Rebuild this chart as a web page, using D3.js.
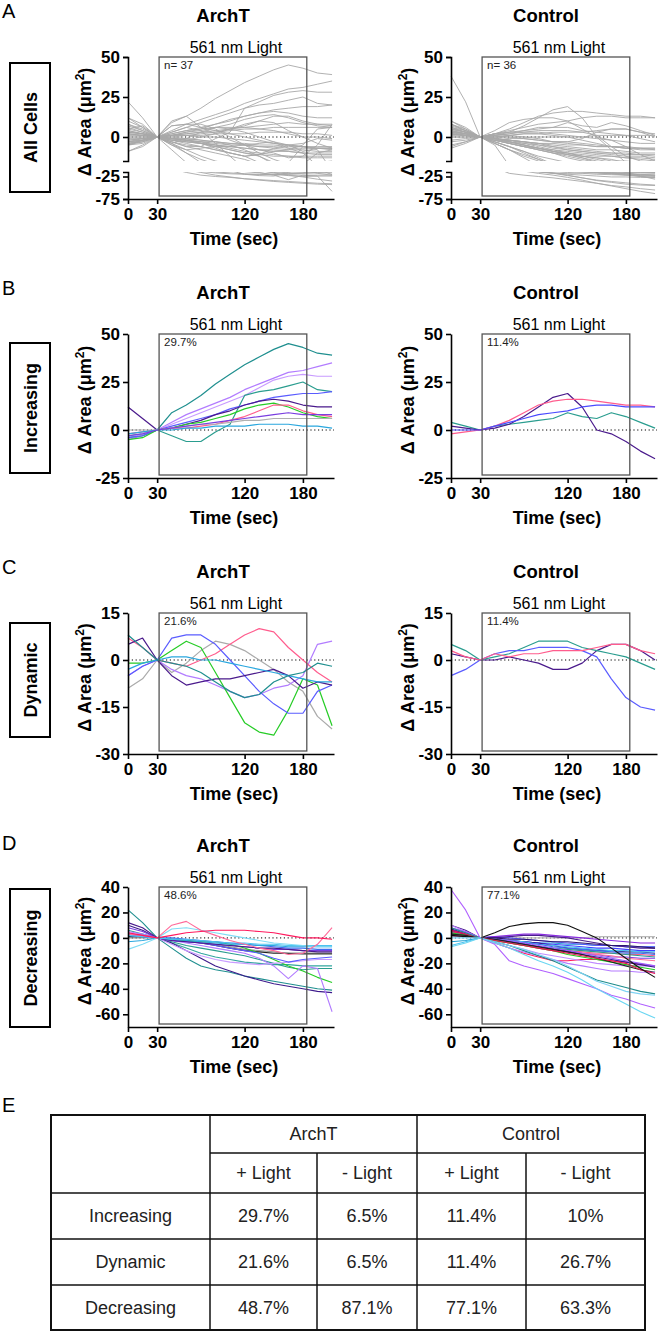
<!DOCTYPE html>
<html>
<head>
<meta charset="utf-8">
<script src="https://cdn.jsdelivr.net/npm/d3@7"></script>
<style>
body { margin: 0; background: #fff; }
text { font-family: "Liberation Sans", Arial, sans-serif; }
</style>
</head>
<body>
<script>
// sample times (sec) for every trace
const timeSec = [0, 15, 30, 45, 60, 75, 90, 105, 120, 135, 150, 165, 180, 195, 210];

// ---- Increasing ----
const increasingArchT = [
    [-3, -2, 0, 9, 13, 18, 24, 29, 34, 38, 42, 45, 43, 40, 39],
    [-5, -3, 0, 4, 8, 11, 14, 17, 21, 24, 27, 30, 31, 33, 35],
    [-4, -2, 0, 3, 6, 9, 12, 15, 18, 22, 26, 28, 29, 28, 28],
    [-4, -3, 0, -3, -6, -6, -1, 3, 18, 20, 21, 23, 25, 21, 20],
    [-4, -3, 0, 2, 4, 6, 8, 11, 13, 15, 17, 18, 19, 19, 20],
    [12, 6, 0, 1, 3, 5, 8, 10, 13, 15, 16, 15, 13, 12, 12],
    [-5, -4, 0, 1, 3, 4, 6, 8, 11, 13, 14, 12, 9, 7, 6],
    [-2, -1, 0, 1, 1, 2, 3, 5, 7, 10, 13, 13, 10, 8, 7],
    [0, 0, 0, 1, 2, 3, 3, 4, 5, 5, 6, 6, 6, 6, 6],
    [-2, -1, 0, 0, 1, 1, 2, 2, 2, 3, 3, 3, 2, 2, 1],
    [-3, -2, 0, 1, 2, 3, 4, 5, 6, 7, 8, 9, 8, 8, 8]
];
const increasingArchTColors = ["#1f8f8f", "#b27cff", "#c89bff", "#2a9d8f", "#5a5cff", "#4a1a8c",
    "#26cc26", "#ff5c8d", "#b0b0b0", "#2aa7de", "#7a3fe0"];

const increasingControl = [
    [4, 2, 0, 2, 3, 4, 5, 6, 9, 7, 6, 9, 7, 4, 1],
    [2, 1, 0, 1, 3, 7, 12, 17, 19, 12, 0, -2, -6, -11, -15],
    [-2, -1, 0, 2, 5, 9, 13, 15, 16, 16, 15, 14, 13, 13, 12],
    [0, 0, 0, 2, 4, 6, 8, 9, 10, 12, 13, 13, 12, 12, 12]
];
const increasingControlColors = ["#2a9d8f", "#4a1a8c", "#ff5c8d", "#4a4aff"];

// ---- Dynamic ----
const dynamicArchT = [
    [-9, -6, 0, -4, -1, 3, 6, 5, 3, 0, -3, -7, -10, -18, -22],
    [-5, -2, 0, -3, -5, -6, -8, -10, -12, -11, -9, -8, -5, 5, 6],
    [-1, -1, 0, 3, 6, 4, -4, -12, -20, -23, -24, -16, -6, -8, -21],
    [7, 4, 0, -1, -2, 0, 2, 5, 8, 10, 9, 4, 0, -4, -7],
    [-5, -2, 0, 7, 8, 8, 5, 0, -5, -10, -14, -17, -17, -10, -8],
    [5, 7, 0, -5, -8, -7, -6, -6, -5, -4, -3, -5, -9, -7, -8],
    [-3, -1, 0, 1, 1, 0, 0, -1, -2, -3, -4, -5, -6, -7, -7],
    [8, 4, 0, -1, -2, -4, -7, -10, -12, -11, -7, -5, -4, -1, -2]
];
const dynamicArchTColors = ["#aaaaaa", "#b27cff", "#26cc26", "#ff5c8d", "#5a5cff", "#4a1a8c", "#2aa7de", "#1f8f8f"];

const dynamicControl = [
    [2, 1, 0, 0, 1, 0, -1, -3, -3, -1, 3, 5, 5, 3, 0],
    [5, 3, 0, 1, 2, 4, 6, 6, 6, 4, 3, 2, 1, -1, -3],
    [-5, -3, 0, 2, 3, 3, 4, 4, 4, 3, 1, -6, -12, -15, -16],
    [3, 1, 0, 2, 1, 2, 2, 3, 3, 3, 4, 5, 5, 3, 2]
];
const dynamicControlColors = ["#4a1a8c", "#2a9d8f", "#5a5cff", "#ff5c8d"];

// ---- Decreasing ----
const decreasingArchT = [
    [0, 0, 0, -1, -2, -3, -5, -7, -9, -10, -11, -12, -13, -13, -13],
    [1, 1, 0, -1, -2, -4, -6, -8, -10, -11, -12, -12, -12, -12, -12],
    [2, 1, 0, -4, -8, -12, -15, -17, -19, -20, -21, -21, -22, -22, -22],
    [6, 3, 0, -3, -6, -8, -10, -12, -14, -17, -20, -23, -25, -24, -24],
    [22, 12, 0, -8, -16, -22, -25, -27, -30, -32, -34, -36, -38, -40, -41],
    [10, 6, 0, -4, -10, -16, -22, -26, -30, -33, -36, -38, -40, -42, -43],
    [3, 2, 0, -1, -2, -3, -3, -5, -8, -12, -17, -22, -26, -31, -35],
    [5, 3, 0, -2, -4, -6, -8, -10, -12, -16, -22, -32, -22, -24, -58],
    [4, 2, 0, -5, -10, -14, -17, -19, -20, -21, -20, -19, -18, -17, -17],
    [2, 1, 0, -2, -3, -4, -6, -8, -10, -12, -16, -19, -17, -16, -15],
    [8, 5, 0, -2, -3, -4, -5, -6, -7, -8, -9, -9, -10, -10, -10],
    [12, 8, 0, -2, -3, -4, -5, -6, -7, -8, -8, -9, -10, -11, -11],
    [3, 2, 0, 0, -1, -2, -3, -4, -5, -6, -7, -8, -8, -9, -9],
    [-3, -2, 0, -1, -2, -3, -4, -5, -5, -6, -6, -7, -7, -7, -7],
    [2, 1, 0, -1, -1, -2, -3, -4, -4, -5, -5, -6, -6, -6, -6],
    [-9, -5, 0, 7, 8, 6, 4, 2, 0, -2, -4, -5, -6, -7, -7],
    [3, 2, 0, 10, 13, 6, 2, -2, -5, -8, -10, -13, -12, -5, 8],
    [4, 2, 0, 2, 4, 5, 6, 6, 6, 5, 4, 2, 0, 0, -1]
];
const decreasingArchTColors = ["#9a9a9a", "#222222", "#33a6a0", "#2a9d8f", "#1f8f8f", "#3d1a8c",
    "#26cc26", "#b27cff", "#c89bff", "#5a5cff", "#7a3fe0", "#4a1a8c", "#3f6df0", "#2aa7de",
    "#4cc3f0", "#7fdcf5", "#ff6b9a", "#ff1a5e"];

const decreasingControl = [
    [1, 1, 0, 0, 0, 0, 0, 0, 0, 0, 1, 1, 1, 1, 1],
    [-3, -2, 0, -1, -2, -3, -4, -4, -5, -5, -6, -6, -7, -7, -7],
    [4, 2, 0, 1, 0, -1, -2, -3, -4, -5, -6, -6, -7, -7, -7],
    [3, 2, 0, -1, -2, -3, -4, -5, -6, -7, -8, -8, -9, -10, -10],
    [4, 2, 0, 1, 2, 3, 3, 2, 1, 0, -1, -2, -3, -4, -4],
    [10, 6, 0, 0, 1, 2, 2, 1, 0, -2, -4, -6, -7, -8, -8],
    [7, 4, 0, 0, -1, -1, -2, -3, -3, -4, -5, -6, -6, -7, -8],
    [6, 4, 0, -1, -2, -3, -4, -6, -8, -9, -10, -10, -11, -11, -12],
    [-6, -3, 0, -1, -2, -3, -5, -6, -7, -8, -9, -10, -10, -11, -11],
    [2, 1, 0, -1, -3, -4, -5, -7, -8, -9, -10, -11, -12, -12, -13],
    [3, 2, 0, -1, -3, -5, -7, -9, -10, -11, -12, -12, -13, -13, -14],
    [5, 3, 0, -2, -4, -6, -7, -8, -9, -10, -11, -12, -13, -14, -15],
    [5, 3, 0, -2, -3, -5, -7, -9, -10, -12, -13, -15, -15, -16, -16],
    [2, 1, 0, -2, -4, -6, -8, -10, -11, -12, -13, -14, -16, -17, -18],
    [5, 3, 0, -4, -8, -12, -15, -18, -18, -17, -17, -18, -19, -21, -22],
    [10, 5, 0, -3, -6, -9, -12, -14, -16, -18, -20, -21, -22, -22, -22],
    [8, 5, 0, -1, -2, -4, -6, -8, -10, -12, -14, -16, -18, -20, -22],
    [6, 3, 0, -1, -3, -5, -7, -9, -11, -13, -15, -17, -19, -21, -23],
    [4, 2, 0, -2, -4, -6, -8, -10, -13, -15, -17, -19, -21, -23, -25],
    [3, 2, 0, -1, -3, -5, -7, -9, -11, -13, -16, -19, -22, -25, -27],
    [8, 4, 0, -4, -8, -11, -14, -17, -20, -22, -24, -26, -26, -27, -27],
    [6, 3, 0, -2, -4, -6, -8, -10, -12, -14, -16, -18, -20, -25, -28],
    [2, 1, 0, 4, 9, 11, 12, 12, 10, 5, 0, -8, -16, -24, -31],
    [8, 4, 0, -3, -6, -10, -14, -18, -23, -28, -33, -36, -39, -42, -44],
    [0, 0, 0, -3, -6, -9, -13, -17, -22, -28, -34, -38, -42, -44, -45],
    [38, 22, 0, -5, -18, -22, -25, -28, -32, -36, -40, -45, -48, -52, -55],
    [-7, -4, 0, -4, -8, -13, -18, -22, -27, -33, -40, -46, -52, -58, -63]
];
const decreasingControlColors = ["#bbbbbb", "#1e9fd0", "#5b5bff", "#4040ff", "#8a2be2", "#4b1d8f",
    "#2d1470", "#3d1a8c", "#4cc3f0", "#3f6df0", "#ff5c8a", "#2a9d8f", "#7b3fe4", "#ff6b9a",
    "#ff1a5e", "#c08cff", "#9b59ff", "#3a1e96", "#22cc22", "#222222", "#b57bff", "#e8174f",
    "#111111", "#1e8c8c", "#7fd3f5", "#b060ff", "#6ad6f2"];

// ---- headings and notes ----
const groupTitles = ["ArchT", "Control"];
const rowLabels = ["All Cells", "Increasing", "Dynamic", "Decreasing"];
const panelNotes = [["n= 37", "n= 36"], ["29.7%", "11.4%"], ["21.6%", "11.4%"], ["48.6%", "77.1%"]];
const xTicks = [0, 30, 120, 180];
const lightWindow = [32, 184];

// ---- table E ----
const tableGroups = ["ArchT", "Control"];
const tableSub = ["+ Light", "- Light", "+ Light", "- Light"];
const tableRows = ["Increasing", "Dynamic", "Decreasing"];
const tableValues = [
    ["29.7%", "6.5%", "11.4%", "10%"],
    ["21.6%", "6.5%", "11.4%", "26.7%"],
    ["48.7%", "87.1%", "77.1%", "63.3%"]
];

const svg = d3.select("body").append("svg")
    .attr("width", 666)
    .attr("height", 1333);

const colX = [128, 451];
var clipCount = 0;

function drawPanel(x0, segs, traces, colors, note, title, lineWidth) {
    const x = d3.scaleLinear().domain([0, 212]).range([x0, x0 + 206]);
    const yTop = d3.min(segs, s => s.range[1]);
    const yBot = d3.max(segs, s => s.range[0]);
    const g = svg.append("g");

    segs.forEach(s => {
        const y = d3.scaleLinear().domain(s.domain).range(s.range);
        const id = "clip" + (clipCount++);
        const pad = segs.length > 1 ? 0 : 3;
        svg.append("clipPath").attr("id", id)
            .append("rect")
            .attr("x", x0 - 2).attr("y", s.range[1] - pad)
            .attr("width", 212).attr("height", s.range[0] - s.range[1] + pad * 2);
        const cg = g.append("g").attr("clip-path", `url(#${id})`);
        if (s.domain[0] <= 0 && s.domain[1] >= 0) {
            cg.append("line")
                .attr("x1", x(0)).attr("x2", x(212))
                .attr("y1", y(0)).attr("y2", y(0))
                .attr("stroke", "#000").attr("stroke-width", 1)
                .attr("stroke-dasharray", "1.2,2.6");
        }
        const line = d3.line()
            .x((d, i) => x(timeSec[i]))
            .y(d => y(d));
        cg.selectAll("path.trace")
            .data(traces)
            .join("path")
            .attr("class", "trace")
            .attr("fill", "none")
            .attr("stroke", (d, i) => colors ? colors[i] : "#a8a8a8")
            .attr("stroke-width", lineWidth)
            .attr("stroke-linejoin", "round")
            .attr("d", line);

        const ax = g.append("g")
            .attr("transform", `translate(${x0},0)`)
            .call(d3.axisLeft(y).tickValues(s.ticks).tickFormat(d => String(d)).tickSize(5)
                .tickSizeOuter(segs.length > 1 ? 5 : 0).tickPadding(3));
        styleAxis(ax);
    });

    // light window box
    g.append("rect")
        .attr("x", x(lightWindow[0])).attr("y", yTop)
        .attr("width", x(lightWindow[1]) - x(lightWindow[0]))
        .attr("height", yBot - 3 - yTop)
        .attr("fill", "none").attr("stroke", "#555").attr("stroke-width", 1.3);
    g.append("text")
        .attr("x", (x(lightWindow[0]) + x(lightWindow[1])) / 2 + 3)
        .attr("y", yTop - 4)
        .attr("text-anchor", "middle")
        .style("font-size", "16px")
        .text("561 nm Light");
    g.append("text")
        .attr("x", x(lightWindow[0]) + 5).attr("y", yTop + 12)
        .style("font-size", "11.5px").attr("fill", "#222")
        .text(note);

    const xa = g.append("g")
        .attr("transform", `translate(0,${yBot})`)
        .call(d3.axisBottom(x).tickValues(xTicks).tickFormat(d => String(d))
            .tickSize(5).tickSizeOuter(0).tickPadding(4));
    styleAxis(xa);

    g.append("text")
        .attr("x", x0 + 106).attr("y", yBot + 46)
        .attr("text-anchor", "middle")
        .style("font-size", "18px").style("font-weight", "bold")
        .text("Time (sec)");

    g.append("text")
        .attr("x", x0 + 95).attr("y", yTop - 35)
        .attr("text-anchor", "middle")
        .style("font-size", "18.5px").style("font-weight", "bold")
        .text(title);

    const cy = (yTop + yBot) / 2 - 6;
    const t = g.append("text")
        .attr("transform", `translate(${x0 - 37},${cy}) rotate(-90)`)
        .attr("text-anchor", "middle")
        .style("font-size", "18px").style("font-weight", "bold");
    t.append("tspan").text("\u0394 Area (\u03bcm");
    t.append("tspan").attr("dy", -7).style("font-size", "12px").text("2");
    t.append("tspan").attr("dy", 7).text(")");
}

function styleAxis(ax) {
    ax.select(".domain").attr("stroke", "#000").attr("stroke-width", 1.6);
    ax.selectAll(".tick line").attr("stroke", "#000").attr("stroke-width", 1.6);
    ax.selectAll(".tick text")
        .attr("fill", "#000")
        .style("font-size", "17px").style("font-weight", "bold")
        .style("font-family", "'Liberation Sans', Arial, sans-serif");
}

function rowHeader(letter, top, label, boxTop, boxBot) {
    svg.append("text").attr("x", 2).attr("y", top - 39)
        .style("font-size", "20px").text(letter);
    svg.append("rect")
        .attr("x", 10).attr("y", boxTop)
        .attr("width", 40).attr("height", boxBot - boxTop)
        .attr("fill", "none").attr("stroke", "#000").attr("stroke-width", 2);
    svg.append("text")
        .attr("transform", `translate(37,${(boxTop + boxBot) / 2}) rotate(-90)`)
        .attr("text-anchor", "middle")
        .style("font-size", "18px").style("font-weight", "bold")
        .text(label);
}

// ---- Row A: all cells, broken axis ----
const allArchT = increasingArchT.concat(dynamicArchT, decreasingArchT);
const allControl = increasingControl.concat(dynamicControl, decreasingControl);
const segA = [
    { domain: [-15, 50], range: [161, 57], ticks: [0, 25, 50] },
    { domain: [-75, -15], range: [199, 172], ticks: [-75, -25] }
];
rowHeader("A", 57, rowLabels[0], 63, 192);
drawPanel(colX[0], segA, allArchT, null, panelNotes[0][0], groupTitles[0], 0.9);
drawPanel(colX[1], segA, allControl, null, panelNotes[0][1], groupTitles[1], 0.9);

// ---- Row B ----
const segB = [{ domain: [-25, 50], range: [478, 334], ticks: [-25, 0, 25, 50] }];
rowHeader("B", 334, rowLabels[1], 343, 473);
drawPanel(colX[0], segB, increasingArchT, increasingArchTColors, panelNotes[1][0], groupTitles[0], 1.2);
drawPanel(colX[1], segB, increasingControl, increasingControlColors, panelNotes[1][1], groupTitles[1], 1.2);

// ---- Row C ----
const segC = [{ domain: [-30, 15], range: [754, 613], ticks: [-30, -15, 0, 15] }];
rowHeader("C", 613, rowLabels[2], 623, 737);
drawPanel(colX[0], segC, dynamicArchT, dynamicArchTColors, panelNotes[2][0], groupTitles[0], 1.2);
drawPanel(colX[1], segC, dynamicControl, dynamicControlColors, panelNotes[2][1], groupTitles[1], 1.2);

// ---- Row D ----
const segD = [{ domain: [-70, 40], range: [1027, 887], ticks: [-60, -40, -20, 0, 20, 40] }];
rowHeader("D", 889, rowLabels[3], 889, 1027);
drawPanel(colX[0], segD, decreasingArchT, decreasingArchTColors, panelNotes[3][0], groupTitles[0], 1.1);
drawPanel(colX[1], segD, decreasingControl, decreasingControlColors, panelNotes[3][1], groupTitles[1], 1.1);

// ---- Table E ----
const tx = [51, 210, 317, 417, 526, 645];
const ty = [1115, 1153, 1193, 1239, 1285, 1330];
const tg = svg.append("g");
svg.append("text").attr("x", 2).attr("y", 1112).style("font-size", "20px").text("E");

tg.append("rect")
    .attr("x", tx[0]).attr("y", ty[0])
    .attr("width", tx[5] - tx[0]).attr("height", ty[5] - ty[0])
    .attr("fill", "none").attr("stroke", "#111").attr("stroke-width", 2);
const hLines = [
    [tx[1], tx[5], ty[1]], [tx[0], tx[5], ty[2]], [tx[0], tx[5], ty[3]], [tx[0], tx[5], ty[4]]
];
const vLines = [
    [tx[1], ty[0], ty[5]], [tx[3], ty[0], ty[5]], [tx[2], ty[1], ty[5]], [tx[4], ty[1], ty[5]]
];
tg.selectAll("line.h").data(hLines).join("line")
    .attr("x1", d => d[0]).attr("x2", d => d[1]).attr("y1", d => d[2]).attr("y2", d => d[2])
    .attr("stroke", "#111").attr("stroke-width", 1.5);
tg.selectAll("line.v").data(vLines).join("line")
    .attr("x1", d => d[0]).attr("x2", d => d[0]).attr("y1", d => d[1]).attr("y2", d => d[2])
    .attr("stroke", "#111").attr("stroke-width", 1.5);

function cell(text, cx, cy) {
    tg.append("text").attr("x", cx).attr("y", cy).attr("dy", "0.35em")
        .attr("text-anchor", "middle").attr("fill", "#222")
        .style("font-size", "18px").text(text);
}
tableGroups.forEach((gname, i) => cell(gname, (tx[1 + i * 2] + tx[3 + i * 2]) / 2, (ty[0] + ty[1]) / 2));
tableSub.forEach((s, i) => cell(s, (tx[1 + i] + tx[2 + i]) / 2, (ty[1] + ty[2]) / 2));
tableRows.forEach((r, j) => {
    const cy = (ty[2 + j] + ty[3 + j]) / 2;
    cell(r, (tx[0] + tx[1]) / 2, cy);
    tableValues[j].forEach((v, i) => cell(v, (tx[1 + i] + tx[2 + i]) / 2, cy));
});
</script>
</body>
</html>
